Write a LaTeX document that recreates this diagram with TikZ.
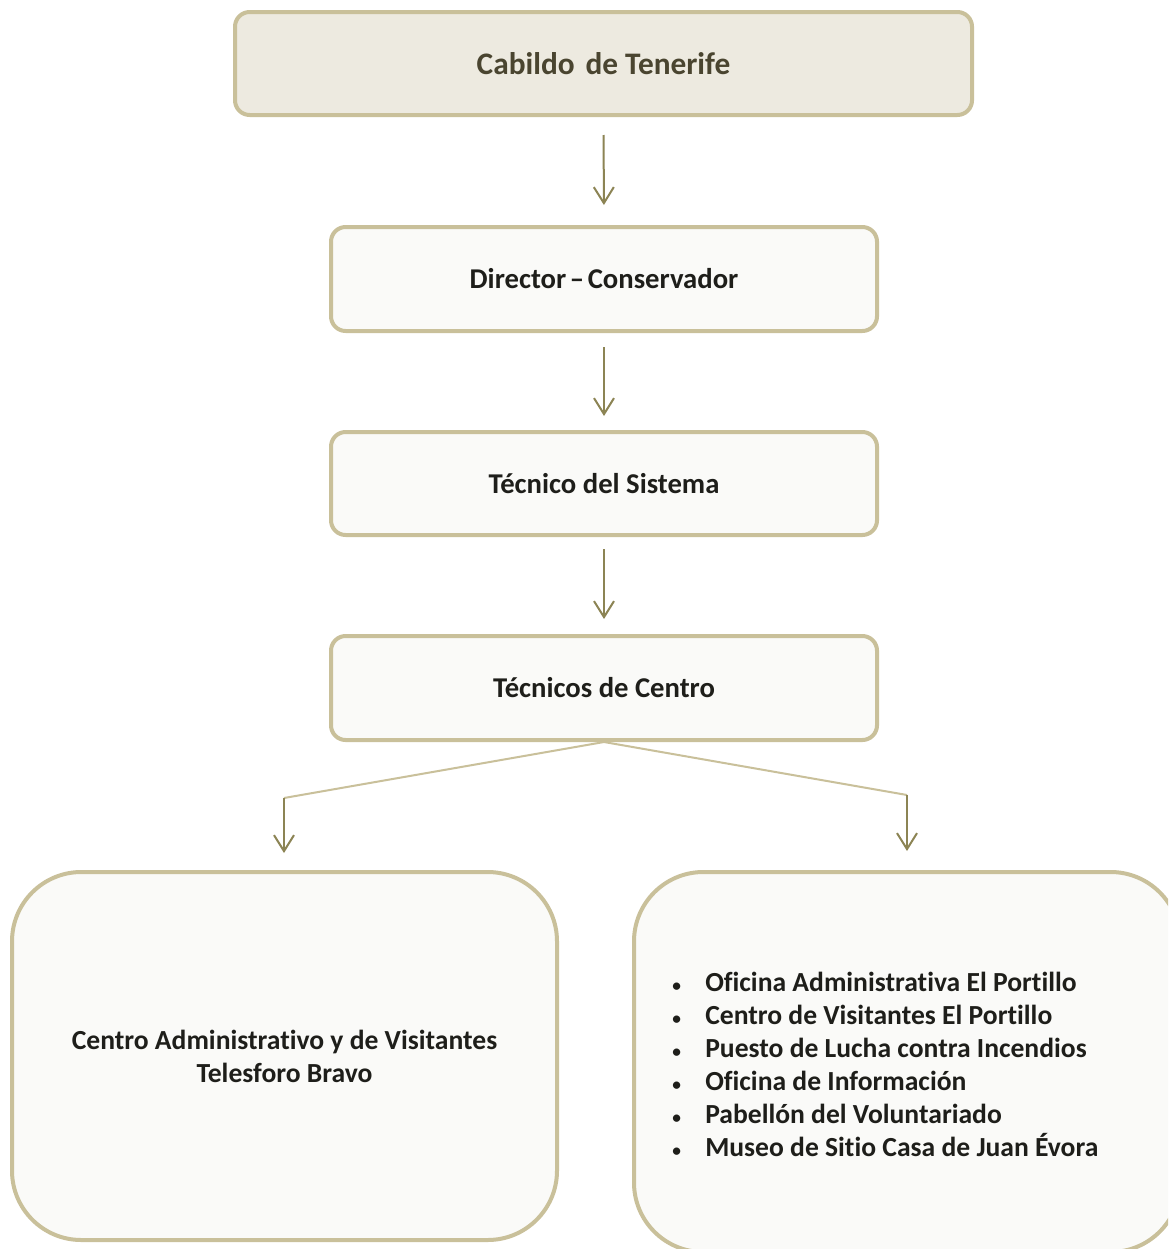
\documentclass[tikz,border=0pt]{standalone}
\usepackage{fontspec}
\setmainfont{Carlito}[Ligatures=NoCommon]
\usetikzlibrary{arrows.meta}
\definecolor{bordc}{HTML}{C9C09A}
\definecolor{topfill}{HTML}{EDEAE0}
\definecolor{boxfill}{HTML}{FAFAF8}
\definecolor{arrc}{HTML}{8C8454}
\definecolor{toptext}{HTML}{4A4530}
\definecolor{bodytext}{HTML}{1E1E1A}
\tikzset{
  orgbox/.style={draw=bordc, line width=3pt, fill=boxfill, rounded corners=11pt,
    inner sep=0pt, align=center, text=bodytext,
    font=\bfseries\fontsize{21.5}{24.75}\selectfont},
  bigbox/.style={orgbox, rounded corners=52pt, font=\bfseries\fontsize{20.7}{24.75}\selectfont},
  conn/.style={draw=arrc, line width=1.5pt, -{Straight Barb[length=12pt,width=15pt,line width=1.5pt]}},
  slant/.style={draw=bordc, line width=1.5pt},
  listtext/.style={align=left, inner sep=0pt, text=bodytext,
    font=\bfseries\fontsize{20.7}{24.75}\selectfont}
}
\begin{document}
\begin{tikzpicture}[x=0.75pt,y=-0.75pt]
\path[use as bounding box] (0,0) rectangle (1168,1249);
\clip (0,0) rectangle (1168,1249);
\fill[white] (0,0) rectangle (1168,1249);

\node[orgbox, fill=topfill, text=toptext, minimum width=552.75pt, minimum height=77.25pt,
  font=\bfseries\fontsize{23.5}{26}\selectfont] (top) at (603.5,63.5) {Cabildo\hspace{0.12em} de Tenerife};
\node[orgbox, minimum width=409.5pt, minimum height=78pt] (dir) at (604,279) {Director\hspace{-0.1em} – \hspace{-0.1em}Conservador};
\node[orgbox, minimum width=409.5pt, minimum height=77.25pt] (tsis) at (604,483.5) {Técnico del Sistema};
\node[orgbox, minimum width=409.5pt, minimum height=78pt] (tcen) at (604,688) {Técnicos de Centro};

\node[bigbox, minimum width=408.75pt, minimum height=276pt] (left) at (284.5,1056) {Centro Administrativo y de Visitantes\\Telesforo Bravo};
\node[bigbox, minimum width=409.5pt, minimum height=285pt] (right) at (907,1062) {};

\node[listtext, anchor=west] (list) at (672,1067) {%
\begin{tabular}{@{}p{24.75pt}@{}l@{}}
{\fontsize{13}{13}\selectfont\textbullet} & Oficina Administrativa El Portillo\\
{\fontsize{13}{13}\selectfont\textbullet} & Centro de Visitantes El Portillo\\
{\fontsize{13}{13}\selectfont\textbullet} & Puesto de Lucha contra Incendios\\
{\fontsize{13}{13}\selectfont\textbullet} & Oficina de Información\\
{\fontsize{13}{13}\selectfont\textbullet} & Pabellón del Voluntariado\\
{\fontsize{13}{13}\selectfont\textbullet} & Museo de Sitio Casa de Juan Évora
\end{tabular}};

\draw[conn, shorten <=13.5pt, shorten >=15pt] (top.south) -- (dir.north);
\draw[conn, shorten <=10.5pt, shorten >=10.5pt] (dir.south) -- (tsis.north);
\draw[conn, shorten <=9pt, shorten >=11.25pt] (tsis.south) -- (tcen.north);

\coordinate (bl) at (284,798);
\coordinate (br) at (907,795);
\draw[slant] (tcen.south) -- (bl);
\draw[slant] (tcen.south) -- (br);
\draw[conn, shorten >=12.75pt] (bl) -- (left.north -| bl);
\draw[conn, shorten >=14.25pt] (br) -- (right.north -| br);
\end{tikzpicture}
\end{document}
